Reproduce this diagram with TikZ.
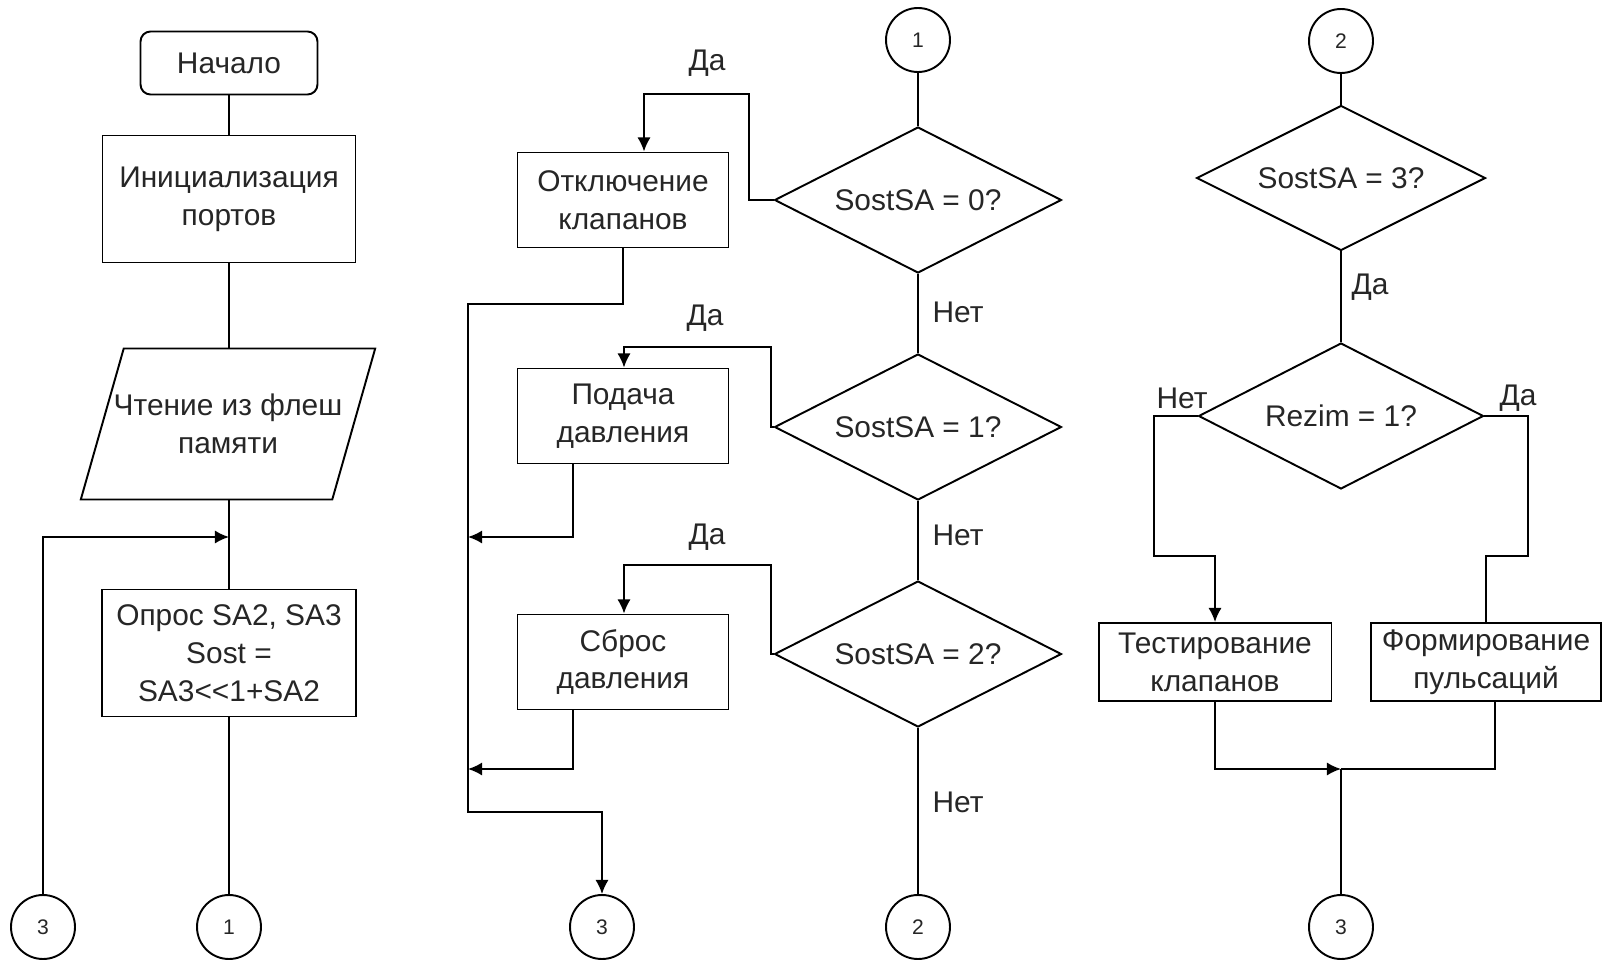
\documentclass[tikz,border=0pt]{standalone}
\usepackage{fontspec}
\setmainfont{Liberation Sans}
\usetikzlibrary{shapes.geometric,arrows.meta}

\begin{document}
\begin{tikzpicture}[x=0.02cm,y=-0.02cm,line width=1.1pt,
  >={Latex[length=8pt,width=7.5pt]},
  every node/.style={font=\fontsize{17}{21.5}\selectfont,text=black!85},
  block/.style={draw,rectangle,align=center,minimum width=4.22cm,minimum height=1.9cm,inner sep=2pt},
  term/.style={draw,rectangle,rounded corners=0.2cm,minimum width=3.54cm,minimum height=1.26cm},
  cond/.style={draw,diamond,aspect=2,minimum width=5.74cm,minimum height=2.92cm,inner sep=1pt},
  io/.style={draw,trapezium,trapezium left angle=74,trapezium right angle=106,
    trapezium stretches body,minimum height=3.02cm,align=center,
    inner xsep=-0.2cm,inner ysep=0.9cm},
  conn/.style={draw,circle,minimum size=1.28cm,inner sep=0pt,font=\fontsize{12}{14}\selectfont},
  lbl/.style={inner sep=1pt}]

\useasboundingbox (0,0) rectangle (1603,960);

% first column
\node[term] (start) at (229,63) {Начало};
\node[block,minimum width=5.06cm,minimum height=2.54cm] (init) at (229,199) {Инициализация\\портов};
\node[io] (read) at (228,424) {Чтение из флеш\\памяти};
\node[block,minimum width=5.08cm,minimum height=2.54cm] (poll) at (229,653) {Опрос SA2, SA3\\Sost =\\SA3<{}<1+SA2};
\node[conn] (c3a) at (43,927) {3};
\node[conn] (c1a) at (229,927) {1};
\coordinate (j1) at (229,537);

\draw (start) -- (init);
\draw (init) -- (init |- read.north);
\draw (read.south -| poll.north) -- (poll);
\draw (poll) -- (c1a);
\draw[->] (c3a.north) |- (j1);

% second column
\node[conn] (c1b) at (918,40) {1};
\node[cond] (q0) at (918,200) {SostSA = 0?};
\node[cond] (q1) at (918,427) {SostSA = 1?};
\node[cond] (q2) at (918,654) {SostSA = 2?};
\node[conn] (c2a) at (918,927) {2};
\node[block] (valvesoff) at (623,200) {Отключение\\клапанов};
\node[block] (pressup) at (623,416) {Подача\\давления};
\node[block] (pressdown) at (623,662) {Сброс\\давления};
\node[conn] (c3b) at (602,927) {3};

\node[lbl] (yes0) at (707,63) {Да};
\node[lbl] (yes1) at (705,318) {Да};
\node[lbl] (yes2) at (707,537) {Да};
\node[lbl] (no0) at (958,312) {Нет};
\node[lbl] (no1) at (958,535) {Нет};
\node[lbl] (no2) at (958,802) {Нет};

\coordinate (t0) at (749,94);
\coordinate (e0) at (644,94);
\coordinate (t1) at (771,347);
\coordinate (e1) at (624,347);
\coordinate (t2) at (771,565);
\coordinate (e2) at (624,565);
\coordinate (m0) at (468,304);
\coordinate (m1) at (468,812);
\coordinate (a1) at (468,537);
\coordinate (a2) at (468,769);

\draw (c1b) -- (q0);
\draw (q0) -- (q1);
\draw (q1) -- (q2);
\draw (q2) -- (c2a);
\draw[->] (q0.west) -| (t0) -- (e0) -- (e0 |- valvesoff.north);
\draw[->] (q1.west) -| (t1) -- (e1) -- (e1 |- pressup.north);
\draw[->] (q2.west) -| (t2) -- (e2) -- (e2 |- pressdown.north);
\draw[->] (valvesoff.south) |- (m0) -- (m1) -| (c3b.north);
\draw[->] ([xshift=-1cm]pressup.south) |- (a1);
\draw[->] ([xshift=-1cm]pressdown.south) |- (a2);

% third column
\node[conn] (c2b) at (1341,41) {2};
\node[cond,minimum width=5.78cm,minimum height=2.9cm] (q3) at (1341,178) {SostSA = 3?};
\node[cond,minimum width=5.7cm] (q4) at (1341,416) {Rezim = 1?};
\node[block,minimum width=4.66cm,minimum height=1.56cm] (test) at (1215,662) {Тестирование\\клапанов};
\node[block,minimum width=4.6cm,minimum height=1.56cm] (pulse) at (1486,662) {Формирование\\пульсаций};
\node[conn] (c3c) at (1341,927) {3};

\node[lbl] (yes3) at (1370,287) {Да};
\node[lbl] (no4) at (1182,398) {Нет};
\node[lbl] (yes4) at (1518,398) {Да};

\coordinate (l4) at (1154,556);
\coordinate (r4) at (1528,556);
\coordinate (j3) at (1341,769);

\draw (c2b) -- (q3);
\draw (q3) -- (q4);
\draw[->] (q4.west) -| (l4) -| (test.north);
\draw (q4.east) -| (r4) -| (pulse.north);
\draw[->] (test.south) |- (j3);
\draw ([xshift=0.18cm]pulse.south) |- (j3);
\draw (c3c) -- (j3);

\end{tikzpicture}
\end{document}
